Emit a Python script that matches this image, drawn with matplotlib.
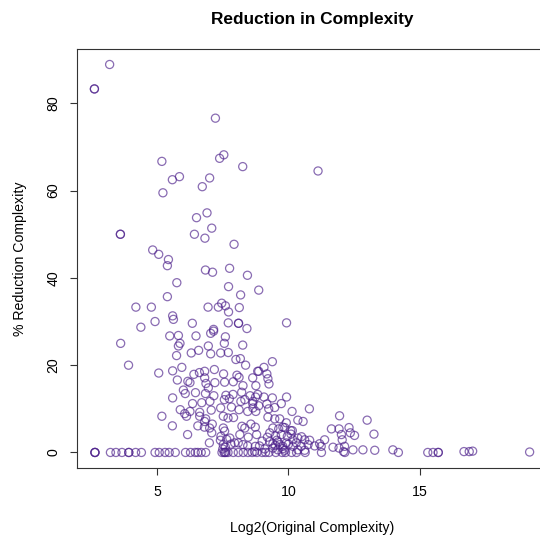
import numpy as np
import matplotlib.pyplot as plt

plt.rcParams['font.family'] = ['Liberation Sans', 'DejaVu Sans']

# log2 of original complexity / % reduction, points with a reduction above zero
log2_orig = [
    3.19, 2.61, 2.61, 7.22, 5.18, 7.38, 7.54, 8.26, 5.58, 5.85, 7.00, 6.72, 11.13,
    5.22, 6.90, 6.50, 7.08, 6.42, 6.82, 3.60, 3.60, 7.93, 4.83, 5.06, 5.43, 5.39,
    6.84, 7.11, 7.76, 8.44, 8.87, 5.75, 7.72, 8.18, 5.39, 4.19, 4.78, 6.94, 7.46,
    7.33, 7.60, 8.13, 7.72, 5.59, 5.62, 4.38, 4.92, 6.34, 7.15, 7.71, 8.10, 8.10,
    8.42, 9.93,
    3.61, 3.91, 5.06, 5.48, 5.81, 5.87, 5.81, 6.48, 7.04, 7.15, 7.56, 7.60, 8.26,
    5.74, 6.30, 6.58, 6.95, 7.04, 7.42, 7.71, 8.00, 8.17, 8.37, 5.59, 5.94, 6.81,
    7.18, 5.77, 6.17, 6.40, 6.61, 6.81, 6.25, 7.53, 8.04, 8.12, 8.64, 8.83, 6.86,
    7.20, 7.57, 7.90, 8.27, 8.76, 6.00, 6.07, 6.46, 6.84, 6.95, 7.16, 7.62, 7.89,
    8.22, 8.54, 8.83, 5.59, 6.35, 6.70, 7.01, 7.56, 7.75, 8.19, 8.34, 8.64, 5.88,
    6.25, 6.62, 7.06, 7.42, 7.83, 8.12, 8.45, 8.76, 5.18, 6.05, 6.12, 6.62, 6.85,
    7.52, 7.70, 7.91, 5.58, 6.55, 6.80, 7.10, 7.52, 7.57, 8.23, 8.34, 8.57, 8.74,
    6.16, 7.08, 7.43, 7.77, 8.15, 8.47, 8.79, 6.99, 7.41, 7.52, 7.81, 8.09, 8.45,
    8.74, 6.81, 7.00, 7.95, 8.27,
    9.39, 9.07, 8.87, 9.18, 9.22, 9.26, 8.75, 9.07, 9.39, 9.93, 9.73, 9.48, 9.18,
    9.25, 8.87, 8.65, 8.65, 10.14, 10.80, 11.95, 13.00, 10.36, 10.56, 9.22, 9.48,
    9.67, 9.92, 9.79, 11.64, 11.93, 12.31, 12.36, 12.52, 12.02, 12.05, 13.26, 9.41,
    9.63, 9.86, 10.09, 10.15, 9.29, 9.51, 9.73, 9.96, 10.17, 10.36, 10.62, 10.81,
    11.19, 11.38, 11.25, 11.70, 11.93, 12.14, 12.10, 12.46, 12.84, 13.29, 13.98,
    9.29, 9.41, 9.56, 9.67, 9.79, 9.92, 9.41, 9.60, 9.86, 10.17, 10.49, 10.75,
    10.36, 10.62, 11.00, 8.90, 8.71, 7.50, 7.60, 7.65, 9.50, 9.60, 9.80, 10.00,
    10.30, 9.00, 9.10, 10.50, 10.10, 9.20, 16.69, 16.89, 17.02, 19.19,
]
pct_red = [
    88.9, 83.3, 83.3, 76.6, 66.7, 67.4, 68.2, 65.5, 62.5, 63.2, 62.9, 60.9, 64.5,
    59.5, 54.9, 53.8, 51.4, 50.0, 49.1, 50.0, 50.0, 47.7, 46.4, 45.4, 44.2, 42.8,
    41.8, 41.3, 42.2, 40.6, 37.2, 38.9, 38.0, 36.1, 35.7, 33.3, 33.3, 33.3, 34.2,
    33.3, 33.6, 33.2, 32.2, 31.3, 30.5, 28.7, 30.0, 29.6, 28.2, 29.7, 29.6, 29.6,
    28.4, 29.7,
    25.0, 20.0, 18.2, 26.7, 26.8, 25.0, 24.4, 26.7, 27.3, 27.8, 25.0, 26.5, 24.6,
    22.2, 22.8, 23.4, 24.4, 22.6, 22.8, 22.9, 21.3, 21.5, 20.0, 18.7, 19.5, 18.6,
    19.0, 16.6, 16.3, 17.9, 18.3, 17.1, 16.0, 18.0, 17.7, 17.2, 17.1, 18.6, 15.8,
    16.0, 16.1, 16.2, 15.3, 15.3, 14.3, 13.5, 13.7, 13.5, 14.8, 13.0, 13.1, 13.3,
    13.8, 13.0, 13.3, 12.5, 11.2, 11.4, 11.7, 12.1, 12.3, 11.7, 12.1, 11.2, 9.8,
    9.4, 9.2, 9.7, 10.2, 10.4, 9.8, 9.4, 9.4, 8.3, 8.9, 8.3, 8.3, 7.7,
    8.3, 7.9, 8.0, 6.1, 6.1, 5.8, 6.5, 5.6, 4.9, 6.0, 5.6, 6.5, 5.8,
    4.1, 4.5, 3.7, 3.3, 4.1, 3.5, 4.1, 2.2, 2.8, 1.8, 1.9, 2.2, 1.5,
    1.4, 7.1, 5.6, 2.2, 1.8,
    20.8, 19.5, 18.6, 18.0, 16.9, 15.7, 12.7, 12.7, 12.5, 12.7, 11.2, 10.3, 11.1,
    10.0, 10.7, 11.7, 10.2, 9.4, 10.0, 8.4, 7.4, 7.4, 7.1, 8.1, 7.7,
    7.7, 6.8, 5.8, 5.4, 5.4, 5.7, 4.5, 3.9, 4.1, 2.9, 4.2, 5.6,
    5.4, 5.7, 5.0, 5.0, 4.5, 3.8, 4.1, 3.7, 2.9, 3.3, 2.9, 2.8,
    2.0, 2.9, 1.4, 1.2, 1.0, 1.4, 0.2, 0.6, 0.6, 0.5, 0.6,
    2.5, 2.0, 2.8, 1.8, 1.4, 2.2, 1.0, 0.6, 0.5, 1.4, 1.4, 1.8,
    0.6, 0.5, 1.5, 1.5, 0.2, 0.8, 1.2, 3.0, 1.6, 2.4, 0.9, 1.9,
    2.2, 2.6, 0.8, 3.6, 4.2, 3.5, 0.2, 0.2, 0.3, 0.1,
]

# log2 of original complexity for points with no reduction
log2_zero = [
    2.63, 2.63, 2.63, 3.22, 3.43, 3.66, 3.92, 3.92, 4.18, 4.40, 4.92, 5.08, 5.30,
    5.46, 5.69, 6.08, 6.27, 6.45, 6.55, 6.68, 6.85, 7.47, 7.55, 7.58, 7.62, 7.70,
    7.90, 8.09, 8.28, 8.46, 8.62, 8.80, 9.00, 9.13, 9.26, 9.52, 9.76, 9.89, 10.12,
    10.31, 10.64, 11.26, 12.15, 14.19, 15.31, 15.51, 15.71, 15.71,
]

x = np.array(log2_orig + log2_zero)
y = np.array(pct_red + [0.0] * len(log2_zero))

fig = plt.figure(figsize=(5.4, 5.46), dpi=100)
ax = fig.add_axes([0.1426, 0.1429, 0.8704, 0.7674])

ax.scatter(x, y, s=34, facecolors='none', edgecolors='#4B1E8A',
           linewidths=0.9, alpha=0.65)

# R-style 4% padding around the data range
xr = x.max() - x.min()
yr = y.max() - y.min()
ax.set_xlim(x.min() - 0.04 * xr, x.max() + 0.04 * xr)
ax.set_ylim(y.min() - 0.04 * yr, y.max() + 0.04 * yr)

ax.set_xticks([5, 10, 15])
ax.set_yticks([0, 20, 40, 60, 80])
ax.tick_params(direction='out', length=5, width=0.8, pad=7, labelsize=10.2,
               color='#333333')
plt.setp(ax.get_yticklabels(), rotation=90, va='center')
for sp in ax.spines.values():
    sp.set_color('#333333')
    sp.set_linewidth(0.8)

ax.set_title('Reduction in Complexity', fontsize=12.4, fontweight='bold', pad=18)
ax.set_xlabel('Log2(Original Complexity)', fontsize=10.2, labelpad=16)
ax.set_ylabel('% Reduction Complexity', fontsize=10.2, labelpad=14)

fig.savefig('out.png', dpi=100)
